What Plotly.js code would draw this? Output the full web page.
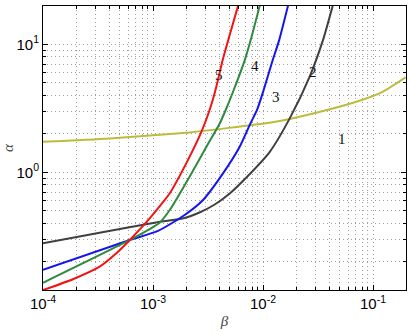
<!DOCTYPE html>
<html>
<head>
<meta charset="utf-8">
<script src="https://cdn.plot.ly/plotly-3.0.1.min.js"></script>
<style>
  body { margin: 0; background: #fff; }
  #chart { width: 415px; height: 332px; }
</style>
</head>
<body>
<div id="chart"></div>
<script>
/*===== data =====*/
// curve 1 (olive)
const beta1 = [1e-4, 4.04e-4, 1.75e-3, 2.15e-3, 1.148e-2, 1.75e-2, 3.51e-2, 7.06e-2, 0.1225, 0.198];
const alpha1 = [1.73, 1.84, 2.02, 2.05, 2.44, 2.61, 3.01, 3.56, 4.26, 5.52];
// curve 2 (dark grey)
const beta2 = [1e-4, 3.27e-4, 1.035e-3, 1.94e-3, 2.65e-3, 3.64e-3, 4.98e-3, 7.06e-3, 1.148e-2, 1.75e-2, 2.65e-2, 3.51e-2, 4.3e-2];
const alpha2 = [0.279, 0.337, 0.404, 0.44, 0.485, 0.56, 0.683, 0.911, 1.44, 2.64, 5.58, 10.8, 20];
// curve 3 (blue)
const beta3 = [1e-4, 6.15e-4, 1.11e-3, 1.94e-3, 2.85e-3, 4.33e-3, 6.14e-3, 7.56e-3, 8.82e-3, 1.014e-2, 1.226e-2, 1.403e-2, 1.687e-2];
const alpha3 = [0.173, 0.296, 0.348, 0.464, 0.608, 0.982, 1.585, 2.34, 3.07, 4.40, 7.54, 10.8, 20];
// curve 4 (green)
const beta4 = [1e-4, 6.15e-4, 1.15e-3, 1.42e-3, 2.15e-3, 3.06e-3, 4.04e-3, 4.58e-3, 5.42e-3, 6.83e-3, 7.73e-3, 9.33e-3];
const alpha4 = [0.137, 0.296, 0.404, 0.507, 0.924, 1.585, 2.41, 3.07, 4.40, 7.54, 10.8, 20];
// curve 5 (red)
const beta5 = [1e-4, 1.87e-4, 3.27e-4, 4.64e-4, 6.15e-4, 9.33e-4, 1.28e-3, 1.42e-3, 2.01e-3, 2.76e-3, 3.27e-3, 3.7e-3, 4.3e-3, 4.83e-3, 5.93e-3];
const alpha5 = [0.12, 0.146, 0.183, 0.233, 0.296, 0.437, 0.608, 0.685, 1.18, 2.08, 3.07, 4.40, 7.54, 10.8, 20];

// curve labels and where they sit (beta, alpha)
const curveNames = ['1', '2', '3', '4', '5'];
const labelBeta = [0.0527, 0.0285, 0.01303, 0.00853, 0.00398];
const labelAlpha = [1.81, 6.11, 3.85, 6.76, 5.75];

// tick labels
const xTickVals = [1e-4, 1e-3, 1e-2, 1e-1];
const xTickText = ['10<sup>-4</sup>', '10<sup>-3</sup>', '10<sup>-2</sup>', '10<sup>-1</sup>'];
const yTickVals = [1, 10];
const yTickText = ['10<sup>0</sup>', '10<sup>1</sup>'];

const colors = ['#bcbc3c', '#404040', '#1414f0', '#2e8a3e', '#f01414'];
const betas = [beta1, beta2, beta3, beta4, beta5];
const alphas = [alpha1, alpha2, alpha3, alpha4, alpha5];

const traces = [];
for (var i = 0; i < betas.length; i++) {
  traces.push({
    x: betas[i],
    y: alphas[i],
    name: curveNames[i],
    type: 'scatter',
    mode: 'lines',
    line: {color: colors[i], width: 2, shape: 'spline', smoothing: 0.6}
  });
}

const annotations = [];
for (var i = 0; i < curveNames.length; i++) {
  annotations.push({
    x: Math.log10(labelBeta[i]),
    y: Math.log10(labelAlpha[i]),
    xref: 'x', yref: 'y',
    text: curveNames[i],
    showarrow: false,
    font: {family: 'Liberation Serif, serif', size: 15, color: '#111'}
  });
}

// minor ticks 2..9 in every decade
function minorTicks(lo, hi) {
  var out = [];
  for (var d = lo; d <= hi; d++) {
    for (var k = 2; k <= 9; k++) out.push(k * Math.pow(10, d));
  }
  return out;
}

const axisStyle = {
  type: 'log',
  tickmode: 'array',
  showline: true,
  mirror: 'ticks',
  linecolor: '#000',
  linewidth: 1,
  ticks: 'inside',
  ticklen: 5,
  tickcolor: '#000',
  showgrid: true,
  gridcolor: '#a0a0a0',
  griddash: '1px,3px',
  gridwidth: 1,
  zeroline: false,
  tickfont: {family: 'Liberation Sans, Arial, sans-serif', size: 15, color: '#000'}
};

const minorStyle = {
  tickmode: 'array',
  showgrid: true,
  gridcolor: '#a0a0a0',
  griddash: '1px,3px',
  gridwidth: 1,
  ticks: 'inside',
  ticklen: 3,
  tickcolor: '#000'
};

const layout = {
  width: 415,
  height: 332,
  margin: {l: 43, r: 9, t: 6, b: 42},
  paper_bgcolor: '#fff',
  plot_bgcolor: '#fff',
  showlegend: false,
  xaxis: Object.assign({}, axisStyle, {
    range: [-4, -0.7],
    tickvals: xTickVals,
    ticktext: xTickText,
    minor: Object.assign({}, minorStyle, {tickvals: minorTicks(-4, -1)}),
    title: {text: '<i>β</i>', standoff: 4,
      font: {family: 'Liberation Serif, serif', size: 15, color: '#444'}}
  }),
  yaxis: Object.assign({}, axisStyle, {
    range: [-0.92, 1.3],
    tickvals: yTickVals,
    ticktext: yTickText,
    minor: Object.assign({}, minorStyle, {tickvals: minorTicks(-1, 1)}),
    title: {text: '<i>α</i>', standoff: 4,
      font: {family: 'Liberation Serif, serif', size: 15, color: '#444'}}
  }),
  annotations: annotations
};

Plotly.newPlot('chart', traces, layout, {staticPlot: true});
</script>
</body>
</html>
